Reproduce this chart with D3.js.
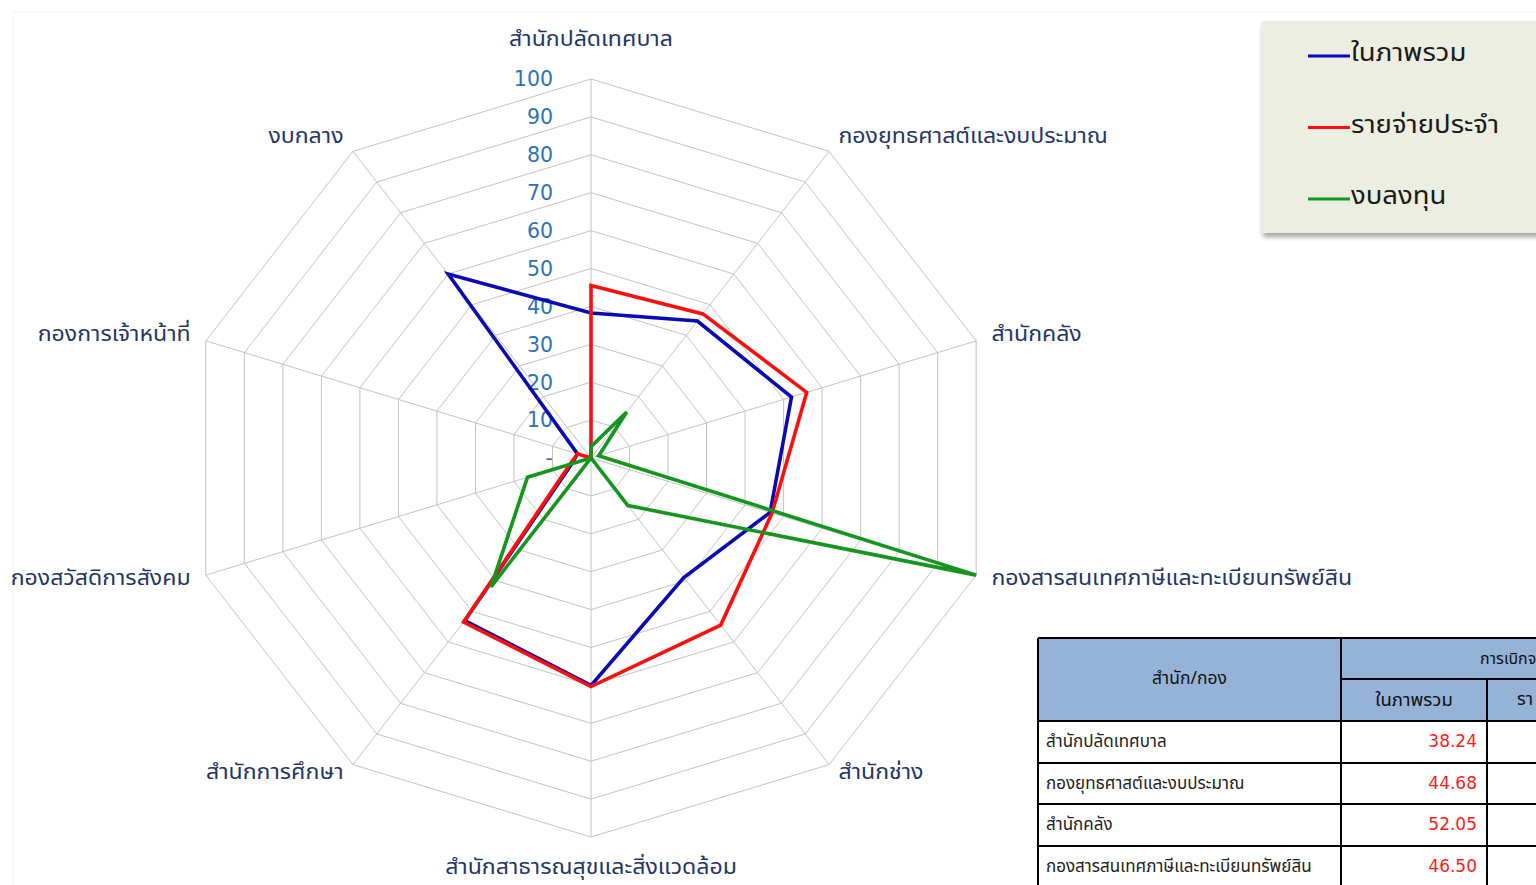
<!DOCTYPE html>
<html><head><meta charset="utf-8">
<script src="https://cdn.jsdelivr.net/npm/d3@7"></script>
<style>
html,body{margin:0;padding:0;background:#fff;overflow:hidden;}
svg{display:block;font-family:Tahoma,"Noto Sans Thai","Noto Sans",sans-serif;}
</style></head>
<body>
<svg id="c" width="1536" height="885"></svg>
<script>
const categories = ["สำนักปลัดเทศบาล","กองยุทธศาสต์และงบประมาณ","สำนักคลัง","กองสารสนเทศภาษีและทะเบียนทรัพย์สิน","สำนักช่าง","สำนักสาธารณสุขและสิ่งแวดล้อม","สำนักการศึกษา","กองสวัสดิการสังคม","กองการเจ้าหน้าที่","งบกลาง"];
const seriesNames = ["ในภาพรวม","รายจ่ายประจำ","งบลงทุน"];
const overall = [38.24, 44.68, 52.05, 46.50, 39, 60, 53, 5, 3.5, 60];
const recurrent = [45.5, 47, 56, 47, 54.5, 60.3, 53.5, 5.5, 3.5, 0];
const investment = [3, 15, 2, 100, 15.5, 0, 42, 16.5, 0, 0];
const tickValues = [0,10,20,30,40,50,60,70,80,90,100];
const tickLabels = ["-","10","20","30","40","50","60","70","80","90","100"];
const tableHeader = ["สำนัก/กอง","การเบิกจ","ในภาพรวม","รา"];
const tableNames = categories.slice(0,4);
const tableValues = overall.slice(0,4);

const colors = ["#0a0ab4","#ff0d0d","#14961e"];
const svg = d3.select("#c");

// faint chart frame
svg.append("path").attr("d","M13,900 V12 H1600")
  .attr("fill","none").attr("stroke","#f3f3f3").attr("stroke-width",1);

const cx = 591, cy = 458;
const rX = d3.scaleLinear().domain([0,100]).range([0,405]);
const rY = d3.scaleLinear().domain([0,100]).range([0,379]);
const n = categories.length;
const ang = d3.scaleLinear().domain([0,n]).range([0,2*Math.PI]);
const px = (i,v)=> cx + rX(v)*Math.sin(ang(i));
const py = (i,v)=> cy - rY(v)*Math.cos(ang(i));

const g = svg.append("g");
// grid rings
tickValues.filter(t=>t>0).forEach(t=>{
  const pts = d3.range(n).map(i=>[px(i,t),py(i,t)]);
  g.append("path").attr("d", d3.line().curve(d3.curveLinearClosed)(pts))
   .attr("fill","none").attr("stroke","#c3c3c3").attr("stroke-width",1);
});
// spokes
d3.range(n).forEach(i=>{
  g.append("line").attr("x1",cx).attr("y1",cy).attr("x2",px(i,100)).attr("y2",py(i,100))
   .attr("stroke","#c3c3c3").attr("stroke-width",1);
});
// tick labels
g.selectAll(".tick").data(tickValues).join("text")
  .attr("x", cx-38).attr("y", d=>cy-rY(d)).attr("dy","0.36em")
  .attr("text-anchor","end").attr("fill","#2c72b8").attr("font-size",20.5)
  .attr("font-family","'DejaVu Sans',Verdana,sans-serif")
  .text((d,i)=>tickLabels[i]);

// category labels
categories.forEach((c,i)=>{
  const s = Math.sin(ang(i)), co = Math.cos(ang(i));
  let x, y, anchor;
  if (Math.abs(s) < 0.01) {
    anchor = "middle"; x = cx;
    y = co > 0 ? cy - rY(100) - 41 : cy + rY(100) + 29;
  } else {
    anchor = s > 0 ? "start" : "end";
    x = cx + (rX(100)+16)*s;
    y = cy - (rY(100)+16)*co - (co < -0.5 ? 6 : 3);
  }
  g.append("text").attr("transform",`translate(${x},${y}) scale(1.1,1)`).attr("dy","0.36em")
   .attr("text-anchor",anchor).attr("fill","#1f3767").attr("font-size",21).text(c);
});

// series
const seriesData = [overall, recurrent, investment];
const line = d3.line().curve(d3.curveLinearClosed);
seriesData.forEach((vals,k)=>{
  g.append("path").attr("d", line(vals.map((v,i)=>[px(i,v),py(i,v)])))
   .attr("fill","none").attr("stroke",colors[k]).attr("stroke-width",3.6)
   .attr("stroke-linejoin","miter");
});

// legend
const defs = svg.append("defs");
const f = defs.append("filter").attr("id","sh").attr("x","-10%").attr("y","-10%").attr("width","130%").attr("height","130%");
f.append("feDropShadow").attr("dx",1).attr("dy",4).attr("stdDeviation",2.5).attr("flood-color","#000").attr("flood-opacity",0.35);
const lg = svg.append("g");
lg.append("rect").attr("x",1262).attr("y",21).attr("width",300).attr("height",212)
  .attr("fill","#ebeee0").attr("filter","url(#sh)");
seriesNames.forEach((s,k)=>{
  const y = 53 + k*71.5;
  lg.append("line").attr("x1",1308).attr("x2",1350).attr("y1",y+3).attr("y2",y+3)
    .attr("stroke",colors[k]).attr("stroke-width",3.2);
  lg.append("text").attr("transform",`translate(1351,${y-1}) scale(1.1,1)`).attr("dy","0.36em")
    .attr("fill","#1a1a1a").attr("font-size",25).text(s);
});

// table
const tg = svg.append("g");
const colX = [1038, 1341, 1487, 1640];
const rowY = [638, 679, 721, 763, 804, 846, 888];
tg.append("rect").attr("x",colX[0]).attr("y",rowY[0]).attr("width",700).attr("height",rowY[2]-rowY[0]).attr("fill","#95b3d7");
tg.append("rect").attr("x",colX[0]).attr("y",rowY[2]).attr("width",700).attr("height",200).attr("fill","#fff");
const bl = (x1,y1,x2,y2)=>tg.append("line").attr("x1",x1).attr("y1",y1).attr("x2",x2).attr("y2",y2).attr("stroke","#000").attr("stroke-width",2);
bl(colX[0],rowY[0],1600,rowY[0]);
bl(colX[1],rowY[1],1600,rowY[1]);
rowY.slice(2).forEach(y=>bl(colX[0],y,1600,y));
bl(colX[0],rowY[0],colX[0],900);
bl(colX[1],rowY[0],colX[1],900);
bl(colX[2],rowY[1],colX[2],900);
tg.append("text").attr("x",(colX[0]+colX[1])/2).attr("y",(rowY[0]+rowY[2])/2-2).attr("dy","0.36em")
  .attr("text-anchor","middle").attr("font-size",17.5).attr("fill","#111").text(tableHeader[0]);
tg.append("text").attr("x",1480).attr("y",(rowY[0]+rowY[1])/2).attr("dy","0.36em")
  .attr("font-size",16).attr("fill","#111").text(tableHeader[1]);
tg.append("text").attr("x",(colX[1]+colX[2])/2).attr("y",(rowY[1]+rowY[2])/2-1).attr("dy","0.36em")
  .attr("text-anchor","middle").attr("font-size",18.5).attr("fill","#111").text(tableHeader[2]);
tg.append("text").attr("x",1517).attr("y",(rowY[1]+rowY[2])/2-1).attr("dy","0.36em")
  .attr("font-size",18).attr("fill","#111").text(tableHeader[3]);
tableNames.forEach((nm,i)=>{
  const yc = (rowY[i+2]+rowY[i+3])/2 - 1;
  tg.append("text").attr("x",colX[0]+8).attr("y",yc).attr("dy","0.36em")
    .attr("font-size",17).attr("fill","#222").text(nm);
  tg.append("text").attr("x",colX[2]-10).attr("y",yc).attr("dy","0.36em")
    .attr("text-anchor","end").attr("font-size",17).attr("fill","#ff1a1a")
    .attr("font-family","'DejaVu Sans',Verdana,sans-serif")
    .text(d3.format(".2f")(tableValues[i]));
});
</script>
</body></html>
